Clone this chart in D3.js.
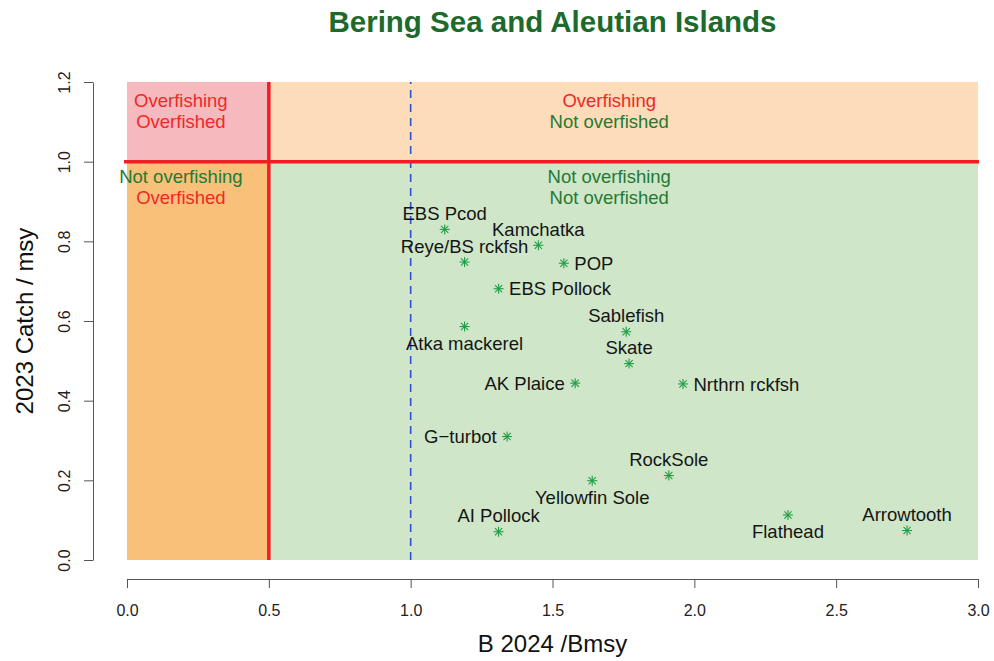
<!DOCTYPE html>
<html>
<head>
<meta charset="utf-8">
<script src="https://cdn.jsdelivr.net/npm/d3@7"></script>
<style>
  html, body { margin: 0; padding: 0; background: #fff; }
  svg { display: block; font-family: "Liberation Sans", Arial, Helvetica, sans-serif; }
</style>
</head>
<body>
<svg id="chart" width="994" height="661"></svg>
<script>
// ---- data ----
const stocks = ["EBS Pcod","Kamchatka","Reye/BS rckfsh","POP","EBS Pollock","Sablefish",
  "Atka mackerel","Skate","AK Plaice","Nrthrn rckfsh","G\u2212turbot","RockSole",
  "Yellowfin Sole","AI Pollock","Flathead","Arrowtooth"];
const bRatio     = [1.12, 1.45, 1.19, 1.54, 1.31, 1.76, 1.19, 1.77, 1.58, 1.96, 1.34, 1.91, 1.64, 1.31, 2.33, 2.75];
const catchRatio = [0.83, 0.79, 0.748, 0.745, 0.681, 0.573, 0.586, 0.493, 0.444, 0.442, 0.31, 0.212, 0.199, 0.071, 0.113, 0.074];
// R text() pos codes: 1 below, 2 left, 3 above, 4 right
const labelPos   = [3, 3, 3, 4, 4, 3, 1, 3, 2, 4, 2, 3, 1, 3, 1, 3];

const xTicks = [0, 0.5, 1, 1.5, 2, 2.5, 3];
const yTicks = [0, 0.2, 0.4, 0.6, 0.8, 1.0, 1.2];
const xDomain = [0, 3];
const yDomain = [0, 1.2];
const overfishedLimit = 0.5;   // B/Bmsy
const bmsyRef = 1.0;           // B/Bmsy
const overfishingLimit = 1.0;  // catch/msy

// quadrants [x0, x1, y0, y1]
const quadrants = [[0, 0.5, 1.0, 1.2], [0.5, 3, 1.0, 1.2], [0, 0.5, 0, 1.0], [0.5, 3, 0, 1.0]];
const quadrantFill = ["#f6b9bd", "#fddcb9", "#f9c07a", "#cfe6c9"];

// region labels: x, y (block centre), lines, colours of lines
const regionX = [0.19, 1.70, 0.19, 1.70];
const regionY = [1.127, 1.127, 0.937, 0.937];
const regionLines = [["Overfishing","Overfished"], ["Overfishing","Not overfished"],
                     ["Not overfishing","Overfished"], ["Not overfishing","Not overfished"]];
const RED = "#f02828", GREEN = "#247a33";
const regionColors = [[RED, RED], [RED, GREEN], [GREEN, RED], [GREEN, GREEN]];

// ---- layout ----
const svg = d3.select("#chart");
const x = d3.scaleLinear().domain(xDomain).range([127, 978]);
const y = d3.scaleLinear().domain(yDomain).range([560, 82]);

// title
svg.append("text").attr("x", 552.5).attr("y", 31.5).attr("text-anchor", "middle")
  .attr("font-size", 29.5).attr("font-weight", "bold").attr("fill", "#1c6a2c")
  .text("Bering Sea and Aleutian Islands");

// quadrant fills
svg.append("g").selectAll("rect").data(quadrants).join("rect")
  .attr("x", d => x(d[0])).attr("width", d => x(d[1]) - x(d[0]))
  .attr("y", d => y(d[3])).attr("height", d => y(d[2]) - y(d[3]))
  .attr("fill", (d, i) => quadrantFill[i]);

// region labels
const rl = svg.append("g").attr("font-size", 18.5).attr("text-anchor", "middle");
regionLines.forEach((lines, i) => {
  lines.forEach((t, j) => {
    rl.append("text").attr("x", x(regionX[i]))
      .attr("y", y(regionY[i]) + (j - 0.5) * 20.5 + 6.6)
      .attr("fill", regionColors[i][j]).text(t);
  });
});

// reference lines
svg.append("line").attr("x1", x(bmsyRef)).attr("x2", x(bmsyRef))
  .attr("y1", y(yDomain[0])).attr("y2", y(yDomain[1]))
  .attr("stroke", "#2f4fd0").attr("stroke-width", 1.6).attr("stroke-dasharray", "8,6");
svg.append("line").attr("x1", x(xDomain[0]) - 3).attr("x2", x(xDomain[1]) + 1)
  .attr("y1", y(overfishingLimit)).attr("y2", y(overfishingLimit))
  .attr("stroke", "#f01e24").attr("stroke-width", 3.5);
svg.append("line").attr("x1", x(overfishedLimit)).attr("x2", x(overfishedLimit))
  .attr("y1", y(yDomain[0])).attr("y2", y(yDomain[1]))
  .attr("stroke", "#f01e24").attr("stroke-width", 3.5);

// axes
const AXIS = "#555";
const xAxis = svg.append("g").attr("transform", "translate(0,579)")
  .call(d3.axisBottom(x).tickValues(xTicks).tickFormat(d3.format(".1f")).tickSize(9).tickSizeOuter(0));
xAxis.select(".domain").attr("stroke", AXIS);
xAxis.selectAll(".tick line").attr("stroke", AXIS);
xAxis.selectAll(".tick text").attr("y", 36.5).attr("dy", null)
  .attr("font-size", 16).attr("font-family", null).attr("fill", "#222");

const yAxis = svg.append("g").attr("transform", "translate(93,0)")
  .call(d3.axisLeft(y).tickValues(yTicks).tickFormat(d3.format(".1f")).tickSize(9).tickSizeOuter(0));
yAxis.select(".domain").attr("stroke", AXIS);
yAxis.selectAll(".tick line").attr("stroke", AXIS);
yAxis.selectAll(".tick text").attr("x", null).attr("dy", null)
  .attr("transform", "translate(-23,0) rotate(-90)").attr("text-anchor", "middle")
  .attr("font-size", 16).attr("font-family", null).attr("fill", "#222");

// axis titles
svg.append("text").attr("x", 552.5).attr("y", 652).attr("text-anchor", "middle")
  .attr("font-size", 24).attr("fill", "#111").text("B 2024 /Bmsy");
svg.append("text").attr("transform", "translate(33,321) rotate(-90)").attr("text-anchor", "middle")
  .attr("font-size", 24).attr("fill", "#111").text("2023 Catch / msy");

// points (pch = 8 asterisk)
const pts = stocks.map((s, i) => ({ name: s, b: bRatio[i], c: catchRatio[i], pos: labelPos[i] }));
const STAR = "#1f9e45";
const r1 = 5, r2 = 3.6;
const pg = svg.append("g").attr("stroke", STAR).attr("stroke-width", 1.1);
pts.forEach(d => {
  const g = pg.append("g").attr("transform", `translate(${x(d.b)},${y(d.c)})`);
  g.append("line").attr("x1", -r1).attr("x2", r1).attr("y1", 0).attr("y2", 0);
  g.append("line").attr("x1", 0).attr("x2", 0).attr("y1", -r1).attr("y2", r1);
  g.append("line").attr("x1", -r2).attr("x2", r2).attr("y1", -r2).attr("y2", r2);
  g.append("line").attr("x1", -r2).attr("x2", r2).attr("y1", r2).attr("y2", -r2);
});

// labels
const lg = svg.append("g").attr("font-size", 18.5).attr("fill", "#151515");
pts.forEach(d => {
  const px = x(d.b), py = y(d.c);
  const t = lg.append("text").text(d.name);
  if (d.pos === 3) t.attr("x", px).attr("y", py - 9.4).attr("text-anchor", "middle");
  else if (d.pos === 1) t.attr("x", px).attr("y", py + 23.2).attr("text-anchor", "middle");
  else if (d.pos === 2) t.attr("x", px - 10.5).attr("y", py + 6.6).attr("text-anchor", "end");
  else t.attr("x", px + 10.5).attr("y", py + 6.6).attr("text-anchor", "start");
});
</script>
</body>
</html>
